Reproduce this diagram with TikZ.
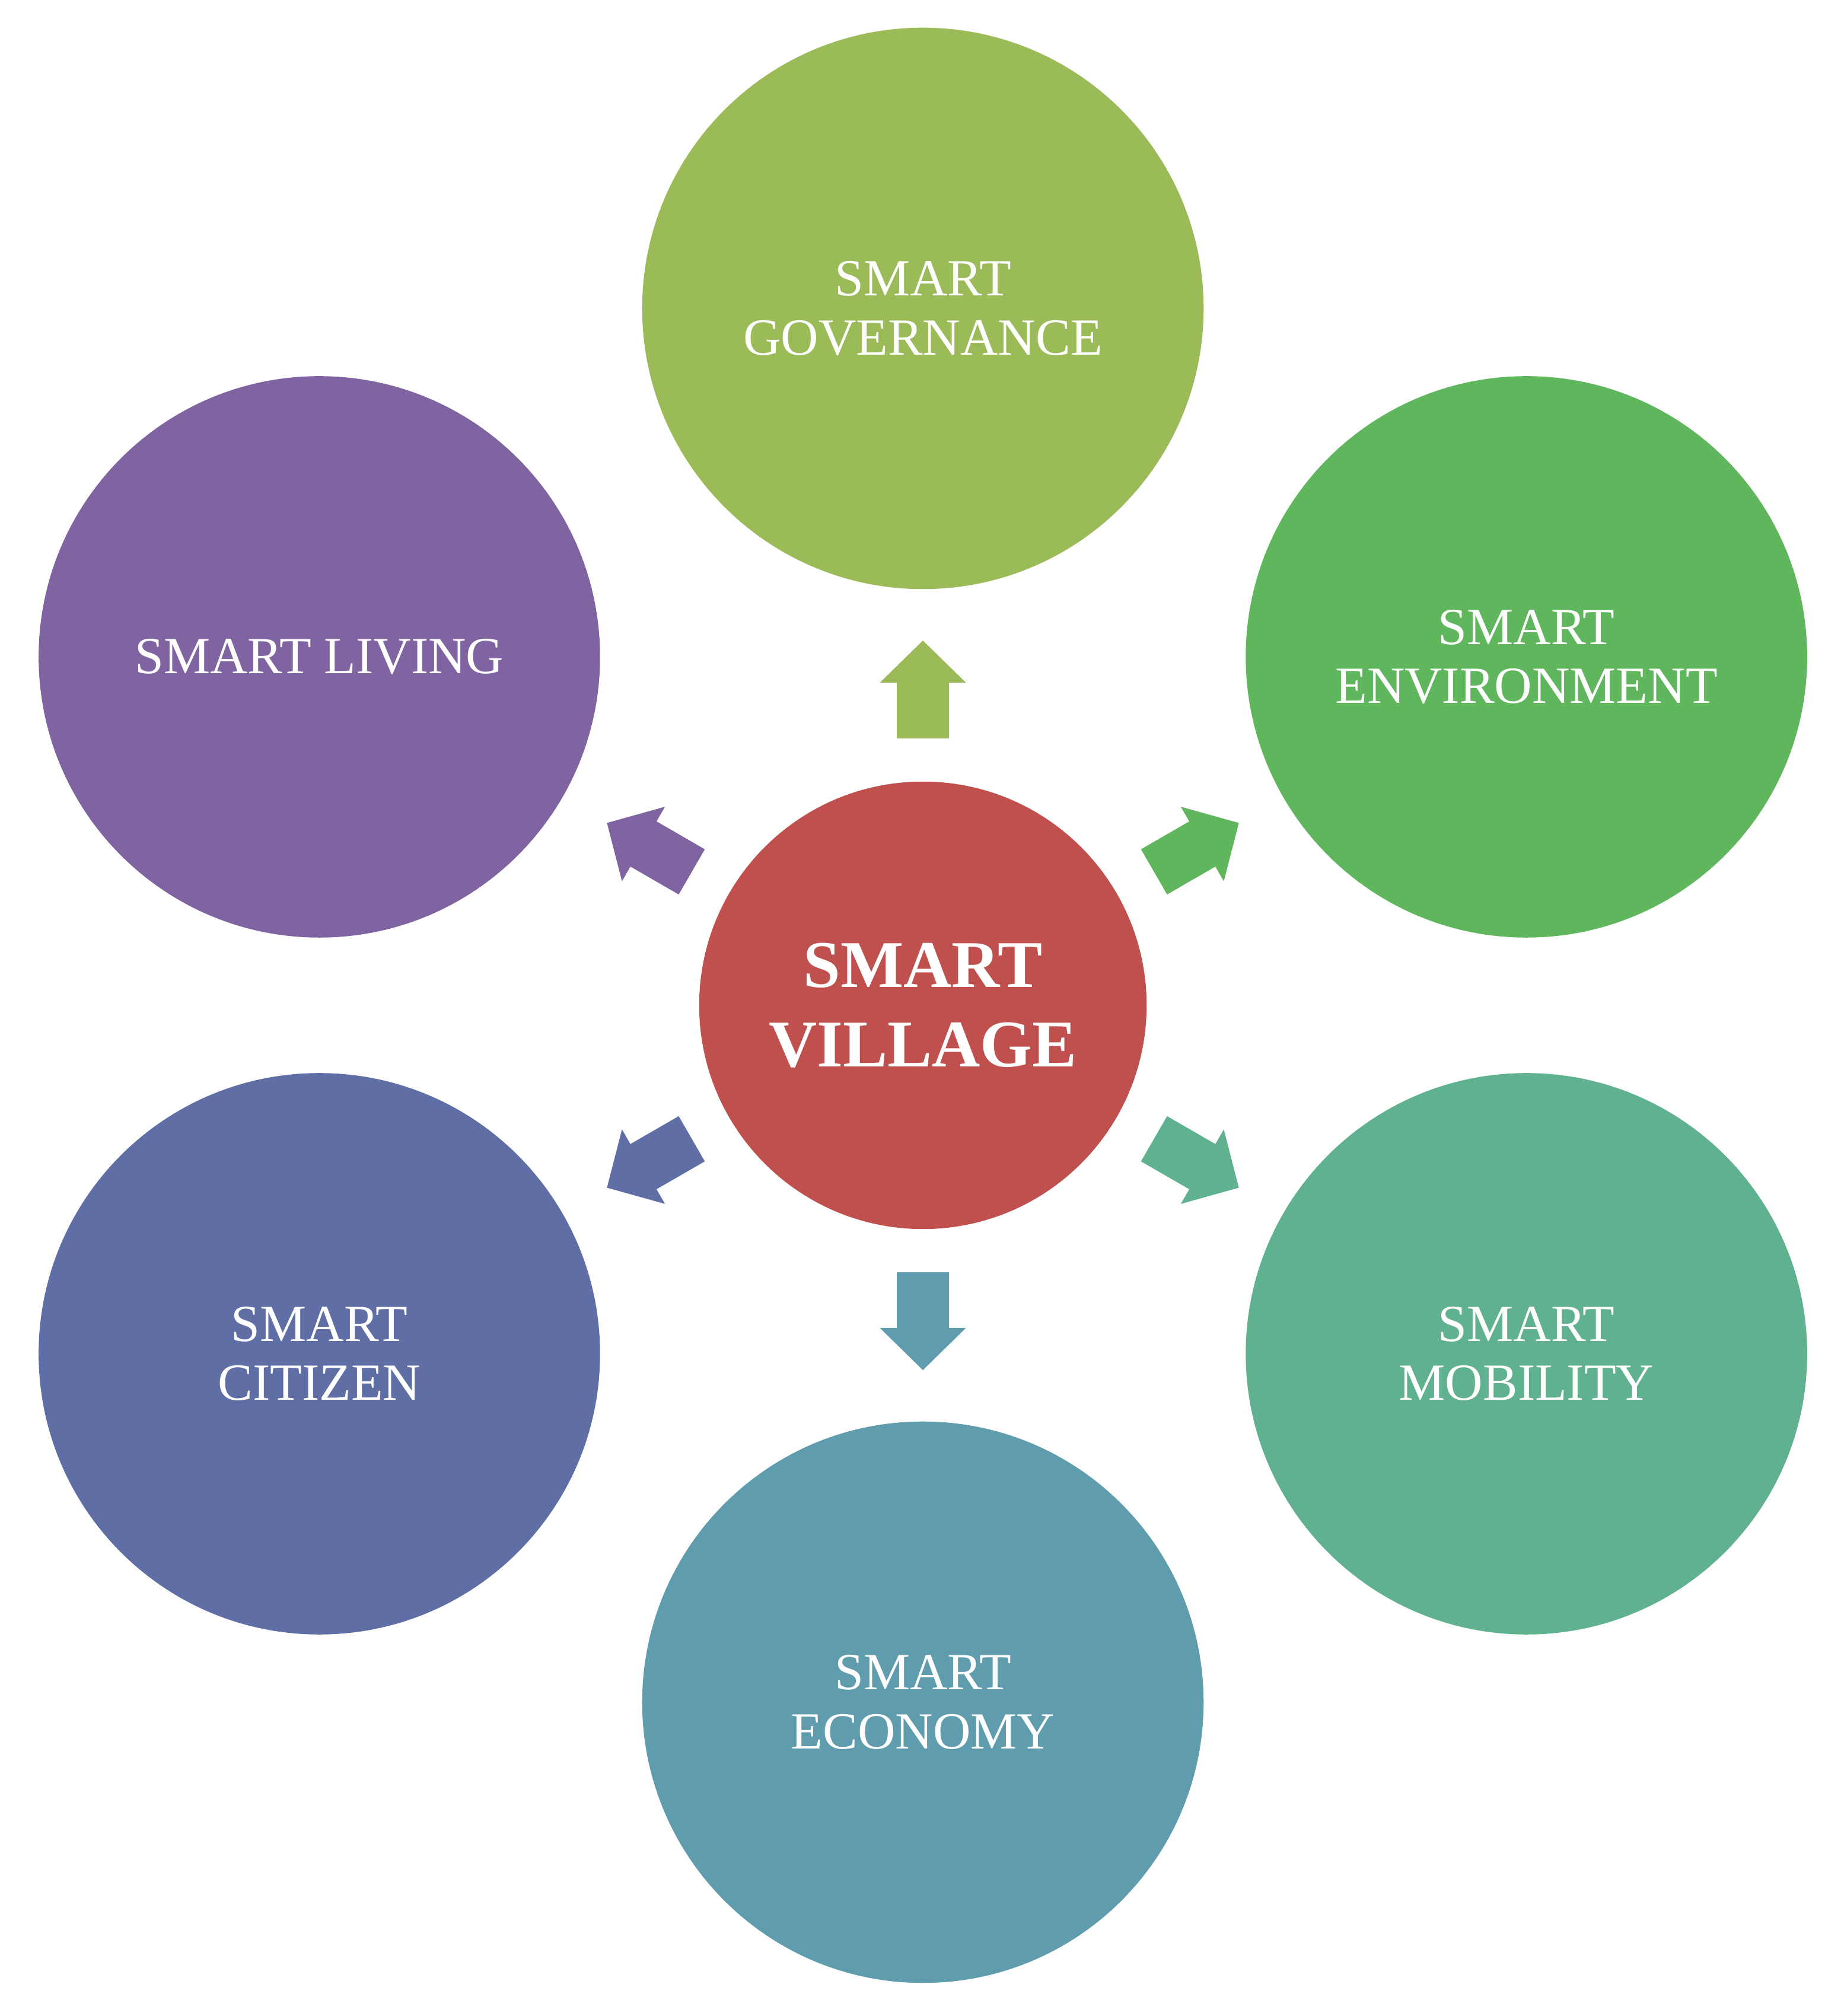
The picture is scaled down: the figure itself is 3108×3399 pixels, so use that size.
\documentclass[tikz,border=0pt]{standalone}
\usepackage{fontspec}
\setmainfont{Liberation Serif}
\usetikzlibrary{calc}
\definecolor{cvil}{HTML}{C0504D}
\definecolor{cgov}{HTML}{9BBB59}
\definecolor{cenv}{HTML}{5FB65C}
\definecolor{cmob}{HTML}{5FB18F}
\definecolor{ceco}{HTML}{5F9CAD}
\definecolor{ccit}{HTML}{5F6FA6}
\definecolor{cliv}{HTML}{8064A2}
\tikzset{
  outer/.style={circle, minimum size=9.46cm, inner sep=0pt, text=white, align=center,
    font=\fontsize{25}{28.3}\selectfont},
  hub/.style={circle, minimum size=7.54cm, inner sep=0pt, fill=cvil, text=white, align=center,
    font=\fontsize{32}{38}\selectfont\bfseries},
}
\newcommand\blockarrow[2]{%
  \begin{scope}[shift={(c.center)}, rotate=#1]
    \fill[#2] (450,-44) -- (544,-44) -- (544,-72.5) -- (615,0) -- (544,72.5) -- (544,44) -- (450,44) -- cycle;
  \end{scope}}
\begin{document}
\begin{tikzpicture}[x=0.01cm, y=0.01cm]
  \fill[white] (0,0) rectangle (3108,3399);
  \useasboundingbox (0,0) rectangle (3108,3399);
  \node[hub] (c) at (1556,1704) {SMART\\VILLAGE};
  \node[outer, fill=cgov] (gov) at ($(c)+(90:1175)$) {SMART\\GOVERNANCE};
  \node[outer, fill=cenv] (env) at ($(c)+(30:1175)$) {SMART\\ENVIRONMENT};
  \node[outer, fill=cmob] (mob) at ($(c)+(-30:1175)$) {SMART\\MOBILITY};
  \node[outer, fill=ceco] (eco) at ($(c)+(-90:1175)$) {SMART\\ECONOMY};
  \node[outer, fill=ccit] (cit) at ($(c)+(210:1175)$) {SMART\\CITIZEN};
  \node[outer, fill=cliv] (liv) at ($(c)+(150:1175)$) {SMART LIVING};
  \blockarrow{90}{cgov}
  \blockarrow{30}{cenv}
  \blockarrow{-30}{cmob}
  \blockarrow{-90}{ceco}
  \blockarrow{210}{ccit}
  \blockarrow{150}{cliv}
\end{tikzpicture}
\end{document}
